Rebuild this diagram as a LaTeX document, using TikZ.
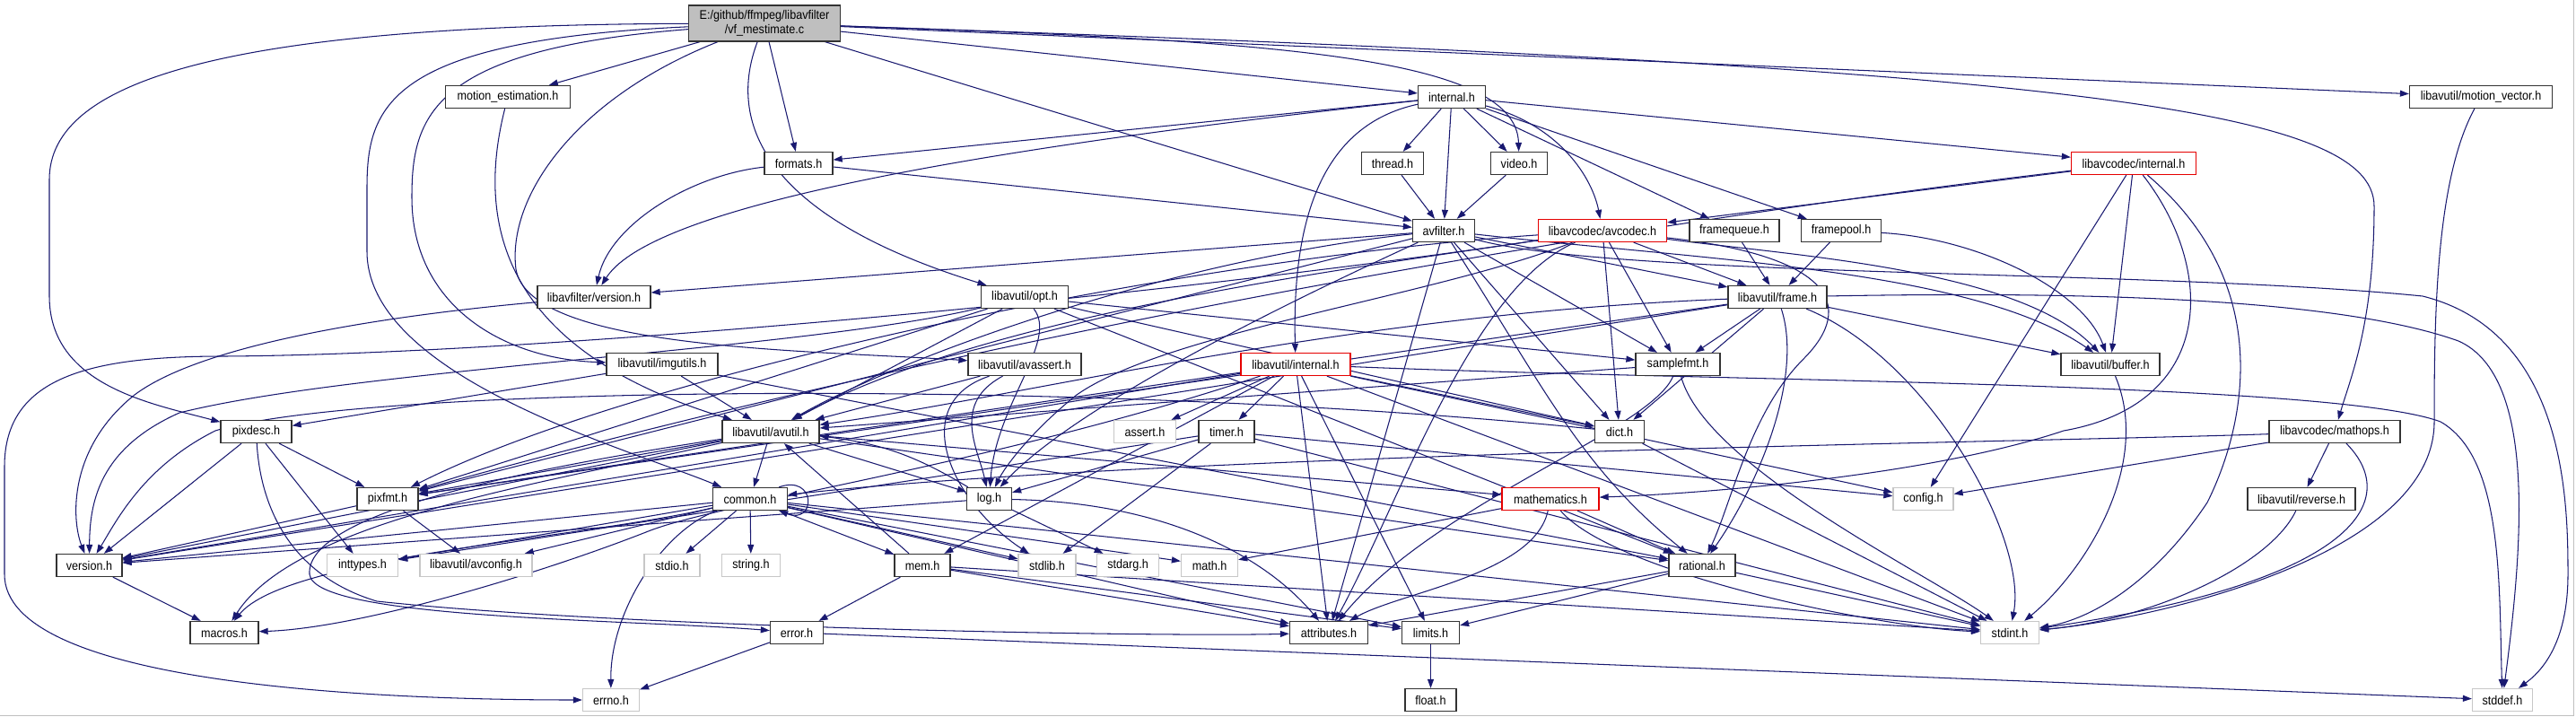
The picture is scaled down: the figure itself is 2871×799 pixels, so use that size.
\documentclass[tikz,border=0pt]{standalone}
\usepackage{fontspec}
\setmainfont{Liberation Sans}[FakeStretch=0.9]
\usetikzlibrary{arrows.meta,backgrounds}
\definecolor{edgec}{RGB}{25,25,112}
\definecolor{mainfill}{RGB}{191,191,191}
\newcommand{\nf}{\fontsize{14}{16}\selectfont}
\begin{document}
\begin{tikzpicture}[x=1pt,y=-1pt,
  nb/.style={draw=black!80,line width=1.3pt,fill=white,minimum height=25pt,inner sep=0pt,font=\nf},
  ng/.style={nb,draw=black!22},
  nr/.style={nb,draw=red!90!black},
  edg/.style={draw=edgec,line width=1.05pt,-{Triangle[length=10pt,width=7pt]}}]
\useasboundingbox (0,0) rectangle (2871,799);
% nodes
\node[nb,minimum width=169pt,minimum height=40pt,fill=mainfill,align=center] (M) at (852,26) {E:/github/ffmpeg/libavfilter\\/vf\_mestimate.c};
\node[nb,minimum width=139pt] (ME) at (566,108) {motion\_estimation.h};
\node[nb,minimum width=75pt] (INT) at (1618,108) {internal.h};
\node[nb,minimum width=159pt] (MV) at (2765,108) {libavutil/motion\_vector.h};
\node[nb,minimum width=76pt] (FMT) at (890,182) {formats.h};
\node[nb,minimum width=69pt] (TH) at (1552,182) {thread.h};
\node[nb,minimum width=63pt] (VID) at (1693,182) {video.h};
\node[nr,minimum width=139pt] (LCI) at (2378,182) {libavcodec/internal.h};
\node[nb,minimum width=69pt] (AVF) at (1609,257) {avfilter.h};
\node[nr,minimum width=143pt] (AC) at (1786,257) {libavcodec/avcodec.h};
\node[nb,minimum width=100pt] (FQ) at (1933,257) {framequeue.h};
\node[nb,minimum width=89pt] (FP) at (2052,257) {framepool.h};
\node[nb,minimum width=126pt] (LFV) at (662,331) {libavfilter/version.h};
\node[nb,minimum width=97pt] (OPT) at (1142,331) {libavutil/opt.h};
\node[nb,minimum width=110pt] (FR) at (1981,331) {libavutil/frame.h};
\node[nb,minimum width=124pt] (IU) at (738,406) {libavutil/imgutils.h};
\node[nb,minimum width=126pt] (AA) at (1142,406) {libavutil/avassert.h};
\node[nr,minimum width=122pt] (LUI) at (1444,406) {libavutil/internal.h};
\node[nb,minimum width=94pt] (SF) at (1870,406) {samplefmt.h};
\node[nb,minimum width=110pt] (BUF) at (2352,406) {libavutil/buffer.h};
\node[nb,minimum width=79pt] (PD) at (285.5,481) {pixdesc.h};
\node[nb,minimum width=108pt] (AU) at (859,481) {libavutil/avutil.h};
\node[ng,minimum width=69pt] (AS) at (1276,481) {assert.h};
\node[nb,minimum width=62pt] (TM) at (1367,481) {timer.h};
\node[nb,minimum width=55pt] (DI) at (1805,481) {dict.h};
\node[nb,minimum width=146pt] (MO) at (2602,481) {libavcodec/mathops.h};
\node[nb,minimum width=68pt] (PF) at (432,556) {pixfmt.h};
\node[nb,minimum width=83pt] (CO) at (836,556) {common.h};
\node[nb,minimum width=50pt] (LOG) at (1102.5,556) {log.h};
\node[nr,minimum width=108pt] (MATH) at (1728,556) {mathematics.h};
\node[ng,minimum width=67pt] (CFG) at (2143.5,556) {config.h};
\node[nb,minimum width=120pt] (REV) at (2565,556) {libavutil/reverse.h};
\node[nb,minimum width=73pt] (VER) at (99.5,630) {version.h};
\node[ng,minimum width=79pt] (IT) at (404,630) {inttypes.h};
\node[ng,minimum width=125pt] (AVC) at (530.5,630) {libavutil/avconfig.h};
\node[ng,minimum width=62pt] (SIO) at (749,630) {stdio.h};
\node[ng,minimum width=65pt] (STR) at (837,630) {string.h};
\node[nb,minimum width=62pt] (MEM) at (1028,630) {mem.h};
\node[ng,minimum width=64pt] (SL) at (1167,630) {stdlib.h};
\node[ng,minimum width=69pt] (SA) at (1257,630) {stdarg.h};
\node[ng,minimum width=63pt] (MH) at (1348,630) {math.h};
\node[nb,minimum width=74pt] (RAT) at (1897,630) {rational.h};
\node[nb,minimum width=76pt] (MAC) at (250,705) {macros.h};
\node[nb,minimum width=59pt] (ERRH) at (888,705) {error.h};
\node[nb,minimum width=87pt] (ATT) at (1481,705) {attributes.h};
\node[nb,minimum width=64pt] (LIM) at (1594.5,705) {limits.h};
\node[ng,minimum width=65pt] (ST) at (2240,705) {stdint.h};
\node[ng,minimum width=63pt] (ERR) at (681,780) {errno.h};
\node[nb,minimum width=57pt] (FL) at (1594.5,780) {float.h};
\node[ng,minimum width=67pt] (SD) at (2789,780) {stddef.h};
\begin{pgfonlayer}{background}
\fill[white] (0,0) rectangle (2871,799);
\draw[black!25,line width=1.5pt] (0,797.5) -- (2868.5,797.5) -- (2868.5,0);
% main file
\draw[edg] (M) -- (ME);
\draw[edg] (M) .. controls (250,28) and (55,90) .. (55,200) -- (55,330) .. controls (55,430) and (170,450) .. (PD);
\draw[edg] (M) .. controls (430,45) and (409,120) .. (409,210) -- (409,280) .. controls (409,420) and (700,500) .. (CO);
\draw[edg] (M) .. controls (480,55) and (459,130) .. (459,220) .. controls (459,340) and (560,400) .. (IU);
\draw[edg] (M) .. controls (640,110) and (565,220) .. (575,300) .. controls (590,390) and (900,390) .. (AA);
\draw[edg] (M) .. controls (820,110) and (815,230) .. (OPT);
\draw[edg] (M) -- (FMT);
\draw[edg] (M) -- (AVF);
\draw[edg] (M) -- (INT);
\draw[edg] (M) .. controls (1400,45) and (1690,60) .. (VID);
\draw[edg] (M) -- (MV);
\draw[edg] (M) .. controls (2300,75) and (2646,120) .. (2646,230) .. controls (2646,360) and (2620,420) .. (MO);
\draw[edg] (ME) .. controls (530,250) and (560,390) .. (AU);
% internal.h
\draw[edg] (INT) -- (FMT);
\draw[edg] (INT) .. controls (1000,175) and (720,240) .. (LFV);
\draw[edg] (INT) .. controls (1470,140) and (1440,250) .. (LUI);
\draw[edg] (INT) -- (TH);
\draw[edg] (INT) -- (AVF);
\draw[edg] (INT) -- (VID);
\draw[edg] (INT) .. controls (1740,140) and (1775,200) .. (AC);
\draw[edg] (INT) -- (FQ);
\draw[edg] (INT) -- (FP);
\draw[edg] (INT) -- (LCI);
\draw[edg] (FMT) .. controls (770,195) and (680,250) .. (LFV);
\draw[edg] (FMT) -- (AVF);
\draw[edg] (TH) -- (AVF);
\draw[edg] (VID) -- (AVF);
% avfilter.h
\draw[edg] (AVF) -- (LFV);
\draw[edg] (AVF) .. controls (1300,290) and (1000,400) .. (AU);
\draw[edg] (AVF) -- (PF);
\draw[edg] (AVF) .. controls (1450,330) and (1200,450) .. (LOG);
\draw[edg] (AVF) -- (ATT);
\draw[edg] (AVF) -- (DI);
\draw[edg] (AVF) -- (SF);
\draw[edg] (AVF) -- (FR);
\draw[edg] (AVF) .. controls (1900,290) and (2200,300) .. (BUF);
\draw[edg] (AVF) .. controls (1720,430) and (1760,520) .. (RAT);
\draw[edg] (AVF) .. controls (1800,310) and (2400,300) .. (2700,330) .. controls (2860,370) and (2862,560) .. (2862,640) .. controls (2862,720) and (2830,750) .. (SD);
% avcodec.h
\draw[edg] (AC) -- (SF);
\draw[edg] (AC) -- (DI);
\draw[edg] (AC) -- (FR);
\draw[edg] (AC) .. controls (2000,285) and (2250,300) .. (BUF);
\draw[edg] (AC) .. controls (1640,320) and (1560,560) .. (ATT);
\draw[edg] (AC) .. controls (2040,285) and (2070,340) .. (2010,400) .. controls (1950,460) and (1930,560) .. (RAT);
\draw[edg] (AC) .. controls (1600,330) and (1300,370) .. (1200,440) .. controls (1150,480) and (1120,520) .. (LOG);
\draw[edg] (AC) .. controls (1500,300) and (1100,350) .. (AU);
\draw[edg] (AC) .. controls (1300,290) and (700,420) .. (PF);
\draw[edg] (AC) .. controls (1300,330) and (600,395) .. (250,397) .. controls (100,397) and (5,420) .. (5,520) -- (5,640) .. controls (5,760) and (400,780) .. (ERR);
% framequeue / framepool
\draw[edg] (FQ) -- (FR);
\draw[edg] (FP) -- (FR);
\draw[edg] (FP) .. controls (2200,265) and (2320,320) .. (BUF);
% libavcodec/internal.h
\draw[edg] (LCI) -- (AC);
\draw[edg] (LCI) .. controls (1800,250) and (1100,370) .. (PF);
\draw[edg] (LCI) -- (BUF);
\draw[edg] (LCI) -- (CFG);
\draw[edg] (LCI) .. controls (2470,300) and (2470,450) .. (2300,480) .. controls (2150,530) and (1900,550) .. (MATH);
\draw[edg] (LCI) .. controls (2540,320) and (2500,480) .. (2460,560) .. controls (2400,650) and (2330,690) .. (ST);
% mathops / reverse / motion_vector / buffer
\draw[edg] (MO) .. controls (2300,492) and (1300,505) .. (CO);
\draw[edg] (MO) -- (CFG);
\draw[edg] (MO) -- (REV);
\draw[edg] (MO) .. controls (2680,560) and (2620,650) .. (ST);
\draw[edg] (REV) .. controls (2530,630) and (2400,690) .. (ST);
\draw[edg] (MV) .. controls (2715,200) and (2713,350) .. (2713,470) .. controls (2713,620) and (2400,690) .. (ST);
\draw[edg] (BUF) .. controls (2400,520) and (2320,640) .. (ST);
% frame.h
\draw[edg] (FR) .. controls (2300,325) and (2600,330) .. (2740,380) .. controls (2830,420) and (2810,620) .. (SD);
\draw[edg] (FR) .. controls (2150,400) and (2260,600) .. (ST);
\draw[edg] (FR) .. controls (1500,350) and (1150,440) .. (AU);
\draw[edg] (FR) -- (BUF);
\draw[edg] (FR) -- (DI);
\draw[edg] (FR) .. controls (2010,420) and (1960,540) .. (RAT);
\draw[edg] (FR) -- (SF);
\draw[edg] (FR) -- (PF);
\draw[edg] (FR) -- (VER);
% opt.h
\draw[edg] (OPT) -- (RAT);
\draw[edg] (OPT) -- (AU);
\draw[edg] (OPT) -- (DI);
\draw[edg] (OPT) -- (PF);
\draw[edg] (OPT) -- (SF);
\draw[edg] (OPT) .. controls (900,390) and (400,410) .. (200,460) .. controls (110,500) and (100,560) .. (VER);
\draw[edg] (OPT) .. controls (1180,380) and (1110,450) .. (LOG);
% avassert.h / imgutils.h
\draw[edg] (AA) -- (AU);
\draw[edg] (AA) .. controls (1010,450) and (1060,560) .. (SL);
\draw[edg] (AA) .. controls (1060,450) and (1090,500) .. (LOG);
\draw[edg] (IU) -- (AU);
\draw[edg] (IU) -- (PD);
\draw[edg] (IU) -- (RAT);
% libavutil/internal.h
\draw[edg] (LUI) -- (AS);
\draw[edg] (LUI) -- (TM);
\draw[edg] (LUI) -- (ATT);
\draw[edg] (LUI) -- (LIM);
\draw[edg] (LUI) -- (DI);
\draw[edg] (LUI) -- (MEM);
\draw[edg] (LUI) -- (CFG);
\draw[edg] (LUI) -- (ST);
\draw[edg] (LUI) -- (PF);
\draw[edg] (LUI) -- (VER);
\draw[edg] (LUI) .. controls (1100,520) and (800,560) .. (720,593) .. controls (600,640) and (400,700) .. (MAC);
\draw[edg] (LUI) .. controls (1900,425) and (2600,425) .. (2720,470) .. controls (2790,510) and (2785,650) .. (SD);
% timer.h
\draw[edg] (TM) -- (CFG);
\draw[edg] (TM) -- (LOG);
\draw[edg] (TM) -- (SL);
\draw[edg] (TM) -- (IT);
\draw[edg] (TM) -- (ST);
% avutil.h
\draw[edg] (AU) -- (CO);
\draw[edg] (AU) -- (RAT);
\draw[edg] (AU) -- (VER);
\draw[edg] (AU) -- (MATH);
\draw[edg] (AU) -- (LOG);
\draw[edg] (AU) -- (PF);
\draw[edg] (AU) .. controls (600,520) and (340,570) .. (345,640) .. controls (350,690) and (700,690) .. (ERRH);
\draw[edg] (AU) .. controls (600,540) and (330,580) .. (MAC);
% common.h
\draw[edg] (CO) -- (SIO);
\draw[edg] (CO) -- (STR);
\draw[edg] (CO) -- (MEM);
\draw[edg] (CO) -- (SL);
\draw[edg] (CO) -- (MH);
\draw[edg] (CO) -- (IT);
\draw[edg] (CO) -- (AVC);
\draw[edg] (CO) -- (VER);
\draw[edg] (CO) -- (ATT);
\draw[edg] (CO) -- (LIM);
\draw[edg] (CO) -- (ST);
\draw[edg] (CO) .. controls (740,590) and (680,680) .. (ERR);
\draw[edg] (CO) .. controls (650,600) and (320,620) .. (MAC);
\draw[edg] ([xshift=-10pt]CO.north east) .. controls (910,528) and (910,585) .. ([xshift=-10pt]CO.south east);
% log.h
\draw[edg] (LOG) -- (SA);
\draw[edg] (LOG) to[bend right=12] (AU);
\draw[edg] (LOG) .. controls (1300,560) and (1410,620) .. (ATT);
\draw[edg] (LOG) -- (VER);
% mathematics.h
\draw[edg] (MATH) .. controls (1800,640) and (2100,700) .. (ST);
\draw[edg] (MATH) -- (MH);
\draw[edg] (MATH) -- (RAT);
\draw[edg] (MATH) .. controls (1710,640) and (1560,660) .. (ATT);
% rational / mem / error / others
\draw[edg] (RAT) -- (ST);
\draw[edg] (RAT) -- (LIM);
\draw[edg] (RAT) -- (ATT);
\draw[edg] (MEM) -- (ATT);
\draw[edg] (MEM) -- (ERRH);
\draw[edg] (MEM) -- (AU);
\draw[edg] (MEM) -- (LIM);
\draw[edg] (MEM) -- (ST);
\draw[edg] (ERRH) -- (ERR);
\draw[edg] (ERRH) -- (SD);
\draw[edg] (LIM) -- (FL);
\draw[edg] (VER) -- (MAC);
\draw[edg] (PF) -- (AVC);
\draw[edg] (PF) -- (VER);
\draw[edg] (PD) -- (IT);
\draw[edg] (PD) -- (PF);
\draw[edg] (PD) -- (VER);
\draw[edg] (PD) .. controls (290,560) and (320,640) .. (420,670) .. controls (700,700) and (1300,710) .. (ATT);
\draw[edg] (LFV) .. controls (450,350) and (230,380) .. (150,440) .. controls (75,500) and (80,580) .. (VER);
\draw[edg] (SF) .. controls (1900,520) and (2150,640) .. (ST);
\draw[edg] (SF) -- (AU);
\draw[edg] (SF) .. controls (1840,480) and (1600,560) .. (ATT);
\draw[edg] (DI) -- (ST);
\draw[edg] (DI) .. controls (1200,420) and (400,430) .. (240,480) .. controls (160,520) and (130,580) .. (VER);
\end{pgfonlayer}
\end{tikzpicture}
\end{document}
